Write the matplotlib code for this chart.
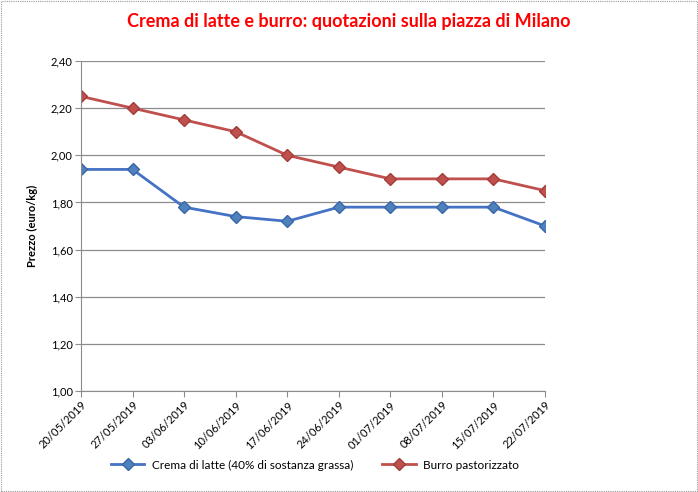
import matplotlib
matplotlib.use("Agg")
import matplotlib.pyplot as plt
from matplotlib.patches import Rectangle

dates = ["20/05/2019", "27/05/2019", "03/06/2019", "10/06/2019", "17/06/2019",
         "24/06/2019", "01/07/2019", "08/07/2019", "15/07/2019", "22/07/2019"]
crema = [1.94, 1.94, 1.78, 1.74, 1.72, 1.78, 1.78, 1.78, 1.78, 1.70]
burro = [2.25, 2.20, 2.15, 2.10, 2.00, 1.95, 1.90, 1.90, 1.90, 1.85]
yticks = [1.00, 1.20, 1.40, 1.60, 1.80, 2.00, 2.20, 2.40]

plt.rcParams['font.family'] = ['Lato', 'DejaVu Sans']

fig = plt.figure(figsize=(6.98, 4.92), dpi=100)
ax = fig.add_axes([81/698, 1-391/492, (545-81)/698, (391-61)/492])

x = list(range(len(dates)))
ax.plot(x, crema, color="#4472C4", lw=2, marker="D", ms=6.5,
        markerfacecolor="#4F81BD", markeredgecolor="#3A66A8",
        label="Crema di latte (40% di sostanza grassa)")
ax.plot(x, burro, color="#C0504D", lw=2, marker="D", ms=6.5,
        markerfacecolor="#C0504D", markeredgecolor="#A33C39",
        label="Burro pastorizzato")

ax.set_xlim(0, len(dates) - 1)
ax.set_ylim(1.0, 2.4)
ax.set_yticks(yticks)
ax.set_yticklabels([f"{v:.2f}".replace(".", ",") for v in yticks], fontsize=8)
ax.set_xticks(x)
ax.set_xticklabels(dates, rotation=45, ha="right", rotation_mode="anchor", fontsize=8)
ax.grid(axis="y", color="#8c8c8c", lw=0.9)
ax.set_axisbelow(True)
for s in ["top", "right"]:
    ax.spines[s].set_visible(False)
for s in ["left", "bottom"]:
    ax.spines[s].set_color("#8c8c8c")
ax.tick_params(axis="both", color="#8c8c8c", length=4, direction="out", pad=2)
ax.set_ylabel("Prezzo (euro/kg)", fontsize=8, fontweight="bold", labelpad=9)

fig.text(0.5, 1-22/492, "Crema di latte e burro: quotazioni sulla piazza di Milano",
         ha="center", va="center", color="#FF0000", fontsize=13, fontweight="bold")

fig.legend(loc="center", bbox_to_anchor=(315/698, 1-465/492), ncol=2, frameon=False,
           fontsize=8.5, handlelength=2.8, handletextpad=0.6, columnspacing=2.5)

fig.add_artist(Rectangle((0.002, 0.002), 0.996, 0.996, transform=fig.transFigure,
                         fill=False, edgecolor="#999999", lw=0.8, ls=(0, (1, 1))))

fig.savefig("out.png", dpi=100)
